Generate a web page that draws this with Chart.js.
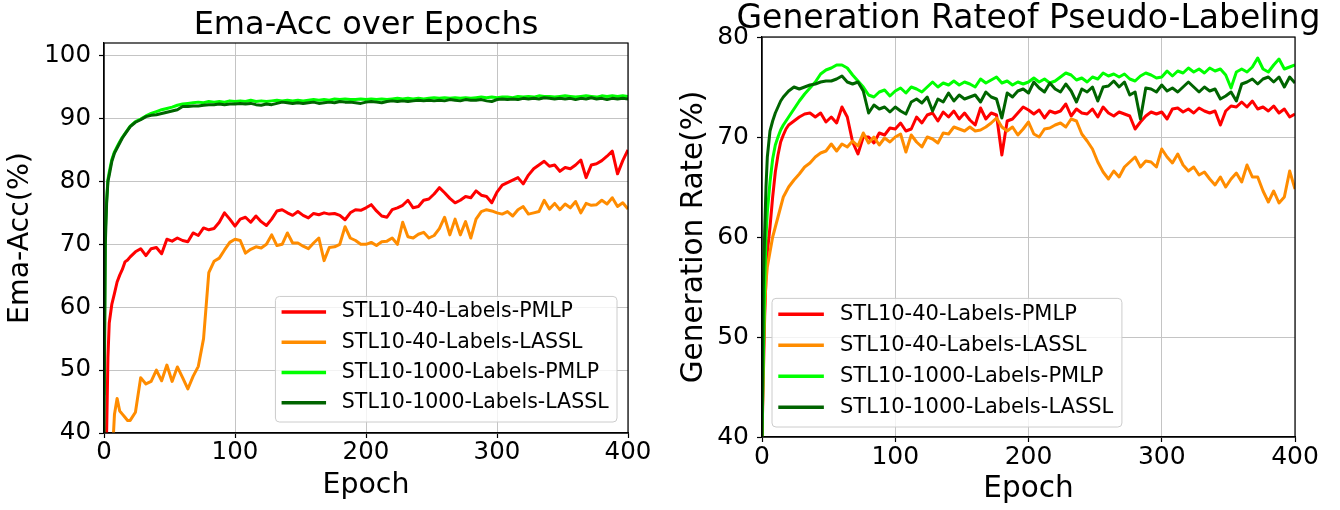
<!DOCTYPE html>
<html><head><meta charset="utf-8">
<script src="https://cdn.jsdelivr.net/npm/chart.js@4/dist/chart.umd.min.js"></script>
<style>
html,body{margin:0;padding:0;background:#fff;}
#wrap{position:relative;width:1340px;height:510px;overflow:hidden;background:#fff;}
canvas{position:absolute;top:0;}
</style></head><body>
<div id="wrap">
<canvas id="c1" width="660" height="510" style="left:0px"></canvas>
<canvas id="c2" width="680" height="510" style="left:660px"></canvas>
</div>
<script>
// ---------- data ----------
const EPOCHS = [0,1,2,3,4,6,8,10,12,14,16,18,
 20,24,28,32,36,40,44,48,52,56,
 60,64,68,72,76,80,84,88,92,96,
 100,104,108,112,116,120,124,128,132,136,
 140,144,148,152,156,160,164,168,172,176,
 180,184,188,192,196,200,204,208,212,216,
 220,224,228,232,236,240,244,248,252,256,
 260,264,268,272,276,280,284,288,292,296,
 300,304,308,312,316,320,324,328,332,336,
 340,344,348,352,356,360,364,368,372,376,
 380,384,388,392,396,400];

const SERIES_LABELS = ['STL10-40-Labels-PMLP','STL10-40-Labels-LASSL','STL10-1000-Labels-PMLP','STL10-1000-Labels-LASSL'];
const COLORS = ['#ff0000','#ff8c00','#00ff00','#006400'];
const X_TICKS = [0,100,200,300,400];

// Ema-Acc (%)
const ACC_40_PMLP = [30,33,40,52,57.5,60.5,62.2,64,65.1,66,67.2,67.5,
 68.0,68.8,69.3,68.2,69.3,69.5,68.5,70.8,70.5,71.0,
 70.6,70.4,71.8,71.4,72.6,72.3,72.5,73.5,75.0,74.0,
 72.9,74.0,74.3,73.5,74.5,73.6,73.0,74.0,75.3,75.5,
 75.0,74.6,75.2,74.6,74.2,74.9,74.7,75.0,74.8,74.9,
 74.6,73.9,75.0,75.5,75.4,75.8,76.3,75.3,74.5,74.3,
 75.5,75.8,76.2,77.0,75.8,76.0,77.0,77.2,78.0,79.0,
 78.2,77.3,76.6,77.0,77.6,77.4,78.5,77.8,77.6,76.6,
 78.3,79.4,79.8,80.2,80.6,79.6,81.0,82.0,82.6,83.2,
 82.4,82.6,81.6,82.2,82.0,82.6,83.4,80.6,82.6,82.8,
 83.3,84.0,84.8,81.2,83.3,85.0];
const ACC_40_LASSL = [35,35,35,35,35,35,43,45.5,43.5,43,42.5,42,
 42.0,43.3,48.8,47.8,48.2,50.0,48.3,50.8,48.2,50.5,
 48.8,47.0,49.0,50.6,55.0,65.5,67.3,67.8,69.1,70.3,
 70.8,70.6,68.6,69.2,69.6,69.4,70.0,71.5,69.8,70.0,
 71.8,70.2,70.2,69.7,69.3,70.2,71.0,67.4,69.5,69.6,
 70.0,72.8,71.0,70.6,70.0,70.0,70.3,69.8,70.4,70.5,
 71.0,70.0,73.5,71.2,71.0,71.6,71.9,71.0,71.4,72.5,
 74.3,71.5,74.0,71.5,73.6,71.0,74.0,75.2,75.5,75.3,
 75.0,74.8,75.2,74.5,75.5,76.0,74.8,75.0,75.2,77.0,
 75.6,76.5,75.5,76.4,75.8,76.8,75.0,76.5,76.2,76.3,
 77.0,76.4,77.4,76.0,76.6,75.6];
const ACC_1000_PMLP = [46,72,77,80.3,81.5,83.5,84.7,85.5,86.3,87.0,87.6,88.2,
 88.8,89.5,89.9,90.4,90.8,91.1,91.4,91.6,91.8,92.1,
 92.3,92.4,92.5,92.6,92.5,92.7,92.6,92.7,92.6,92.8,
 92.7,92.8,92.7,92.9,92.7,92.8,92.7,92.8,92.9,92.8,
 92.9,92.8,92.9,92.8,92.9,93.0,92.9,93.0,92.9,93.1,
 93.0,93.1,93.0,93.0,93.1,93.0,93.1,93.0,93.1,93.0,
 93.1,93.2,93.1,93.2,93.1,93.2,93.1,93.2,93.3,93.2,
 93.3,93.2,93.3,93.2,93.3,93.2,93.3,93.4,93.3,93.4,
 93.3,93.4,93.4,93.3,93.5,93.4,93.5,93.4,93.6,93.5,
 93.5,93.4,93.5,93.6,93.5,93.4,93.5,93.6,93.5,93.4,
 93.6,93.5,93.6,93.5,93.6,93.5];
const ACC_1000_LASSL = [40,70,76.5,80,81,83.2,84.5,85.3,86.1,86.9,87.5,88.1,
 88.7,89.4,89.8,90.3,90.5,90.6,90.8,91.0,91.2,91.4,
 91.9,91.9,92.0,92.0,92.1,92.2,92.2,92.3,92.2,92.3,
 92.3,92.4,92.3,92.4,92.2,92.1,92.3,92.2,92.4,92.6,
 92.5,92.4,92.5,92.4,92.5,92.6,92.4,92.5,92.6,92.5,
 92.7,92.6,92.6,92.5,92.4,92.6,92.7,92.6,92.5,92.7,
 92.8,92.7,92.8,92.7,92.8,92.9,92.8,92.9,92.8,92.9,
 92.8,93.0,92.9,92.8,93.0,92.9,92.9,93.0,92.8,92.7,
 93.0,93.1,93.0,93.1,93.0,93.2,93.1,93.2,93.1,93.3,
 93.2,93.1,93.2,93.1,93.2,93.0,93.2,93.1,93.3,93.1,
 93.2,93.0,93.2,93.1,93.2,93.1];

// Generation rate of pseudo-labeling (%)
const GEN_40_PMLP = [40,46,52,56,58.5,61,64,66.5,68.2,69.5,70.2,70.8,
 71.2,71.6,72.0,72.3,72.4,72.0,72.4,71.5,72.0,71.4,
 73.0,72.0,69.5,68.3,70.0,70.0,69.4,70.4,70.2,70.9,
 70.8,71.4,70.6,70.8,72.0,71.4,72.2,72.4,71.6,72.5,
 72.0,72.6,71.8,72.4,71.7,71.2,72.9,71.8,72.4,72.2,
 68.2,71.6,71.8,72.4,73.0,72.7,72.3,72.7,71.9,72.6,
 72.4,72.6,73.3,72.1,72.8,72.4,72.3,72.8,72.0,73.0,
 72.4,72.1,72.5,72.3,72.1,70.8,71.5,72.1,72.5,72.3,
 72.5,71.8,72.8,72.9,72.5,72.8,72.4,72.9,72.6,72.4,
 72.6,71.2,72.6,73.1,73.0,73.5,73.0,73.6,72.8,73.0,
 72.6,73.1,72.4,72.8,72.0,72.3];
const GEN_40_LASSL = [40,48,53,55.5,57,58.5,60,61,62,63,64,64.5,
 65.0,65.7,66.3,67.0,67.4,68.0,68.4,68.6,69.3,68.6,
 69.3,69.0,69.6,69.1,70.4,69.4,70.0,69.2,69.9,69.5,
 70.0,70.3,68.5,70.2,69.5,69.0,70.0,69.8,69.4,70.4,
 70.3,71.0,70.8,70.6,71.0,70.6,70.7,71.0,71.4,71.9,
 71.0,70.6,71.0,70.2,70.8,71.5,70.3,70.0,70.8,70.9,
 71.2,71.4,71.0,71.8,71.6,70.3,69.6,68.8,67.5,66.5,
 65.8,66.6,66.0,67.0,67.5,68.0,67.0,67.6,67.5,67.0,
 68.8,68.0,67.4,68.3,67.2,66.6,67.0,66.2,66.5,65.8,
 65.2,66.0,65.0,65.8,66.4,65.5,67.2,66.0,66.0,64.6,
 63.5,64.6,63.4,64.0,66.6,64.8];
const GEN_1000_PMLP = [40,48,55,60,62.5,65.5,67.8,69.2,70.0,70.7,71.2,71.6,
 72.0,72.8,73.6,74.3,74.9,75.5,76.3,76.7,76.9,77.2,
 77.2,76.9,76.2,75.6,75.0,74.2,74.0,74.5,74.7,74.1,
 74.6,74.9,74.4,75.0,74.8,74.5,75.0,75.5,75.0,75.4,
 75.2,75.6,75.2,75.5,75.3,75.0,75.8,75.4,75.7,76.0,
 75.4,75.6,75.2,75.5,75.3,75.5,75.9,75.5,75.8,75.4,
 75.6,76.0,76.4,76.2,75.7,75.9,75.5,76.0,75.8,76.4,
 76.1,76.3,76.0,76.3,75.8,75.6,76.1,76.4,76.2,75.9,
 76.0,76.6,76.1,76.6,76.4,76.9,76.5,76.8,76.4,76.9,
 76.6,76.8,76.2,74.9,76.5,76.8,76.5,77.0,77.9,76.8,
 76.5,77.2,77.8,76.8,77.0,77.2];
const GEN_1000_LASSL = [40,55,60.5,65,68,70.6,71.6,72.4,73.0,73.6,74.0,74.3,
 74.6,75.0,74.8,75.0,75.2,75.3,75.5,75.6,75.6,75.8,
 76.1,75.5,75.3,75.5,74.6,72.4,73.2,72.8,73.0,72.5,
 73.0,72.6,72.3,73.5,73.8,73.4,74.0,72.6,73.8,73.5,
 74.4,73.6,74.2,73.8,74.0,74.2,73.5,74.5,74.0,73.8,
 71.9,74.4,74.0,74.6,74.8,74.4,75.5,74.9,74.5,75.4,
 74.8,74.5,75.3,74.6,73.5,74.8,74.5,75.0,73.6,75.0,
 75.1,75.6,75.0,75.5,74.2,74.5,71.8,74.9,74.8,74.5,
 75.2,74.6,74.9,74.5,75.0,75.5,75.0,74.5,75.0,74.6,
 74.8,73.8,74.1,74.5,73.6,75.3,75.5,75.8,75.3,75.8,
 76.0,75.5,76.0,75.0,76.0,75.4];

// ---------- helpers ----------
const FONT = '"DejaVu Sans", "Liberation Sans", sans-serif';

function makeDataset(values, i) {
  return {
    label: SERIES_LABELS[i],
    data: values.map((v, k) => ({x: EPOCHS[k], y: v})),
    borderColor: COLORS[i],
    backgroundColor: COLORS[i],
    borderWidth: 3,
    pointRadius: 0,
    pointHoverRadius: 0,
    tension: 0,
    fill: false,
    borderJoinStyle: 'round',
    order: 3 - i
  };
}

const framePlugin = {
  id: 'frame',
  afterDatasetsDraw(chart, args, o) {
    const {ctx, chartArea: a} = chart;
    ctx.save();
    ctx.strokeStyle = o.color || '#000';
    ctx.lineWidth = o.width || 1.2;
    ctx.strokeRect(a.left, a.top, a.right - a.left, a.bottom - a.top);
    ctx.restore();
  }
};

const boxLegendPlugin = {
  id: 'boxLegend',
  afterDatasetsDraw(chart, args, o) {
    const {ctx, chartArea: a} = chart;
    const fs = o.fontSize;
    const items = chart.data.datasets.map((d, i) => ({label: d.label, color: d.borderColor}));
    ctx.save();
    ctx.font = fs + 'px ' + FONT;
    const maxW = Math.max(...items.map(it => ctx.measureText(it.label).width));
    const padL = 0.3 * fs, handle = 2.17 * fs, gap = 0.77 * fs, padR = 0.41 * fs;
    const padT = 0.76 * fs, padB = 0.94 * fs, rowH = 1.475 * fs;
    const w = padL + handle + gap + maxW + padR;
    const h = padT + padB + rowH * (items.length - 1);
    const x0 = o.corner === 'right' ? a.right - o.insetX - w : a.left + o.insetX;
    const y0 = a.bottom - o.insetY - h;
    ctx.beginPath();
    ctx.roundRect(x0, y0, w, h, 4);
    ctx.fillStyle = 'rgba(255,255,255,0.8)';
    ctx.fill();
    ctx.strokeStyle = '#cccccc';
    ctx.lineWidth = 1;
    ctx.stroke();
    items.forEach((it, i) => {
      const cy = y0 + padT + i * rowH;
      ctx.beginPath();
      ctx.moveTo(x0 + padL, cy);
      ctx.lineTo(x0 + padL + handle, cy);
      ctx.strokeStyle = it.color;
      ctx.lineWidth = 3.5;
      ctx.stroke();
      ctx.fillStyle = '#000';
      ctx.textBaseline = 'middle';
      ctx.textAlign = 'left';
      ctx.fillText(it.label, x0 + padL + handle + gap, cy);
    });
    ctx.restore();
  }
};

const plotTitlePlugin = {
  id: 'plotTitle',
  afterDraw(chart, args, o) {
    const {ctx, chartArea: a} = chart;
    ctx.save();
    ctx.font = o.fontSize + 'px ' + FONT;
    ctx.fillStyle = '#000';
    ctx.textAlign = 'center';
    ctx.textBaseline = 'alphabetic';
    ctx.fillText(o.text, (a.left + a.right) / 2, a.top - o.gap);
    ctx.restore();
  }
};

function makeChart(canvasId, cfg) {
  const yLine = cfg.axisFont * 1.2;
  return new Chart(document.getElementById(canvasId), {
    type: 'line',
    data: { datasets: cfg.series.map((s, i) => makeDataset(s, i)) },
    plugins: [framePlugin, boxLegendPlugin, plotTitlePlugin],
    options: {
      responsive: false,
      animation: false,
      devicePixelRatio: 1,
      events: [],
      layout: { padding: { left: 0, right: cfg.padRight, top: cfg.padTop, bottom: 0 } },
      plugins: {
        legend: { display: false },
        title: { display: false },
        tooltip: { enabled: false },
        frame: { color: '#000', width: 1.2 },
        boxLegend: { fontSize: cfg.legendFont, corner: cfg.legendCorner, insetX: cfg.legendInsetX, insetY: cfg.legendInsetY },
        plotTitle: { text: cfg.title, fontSize: cfg.titleFont, gap: 9 }
      },
      scales: {
        x: {
          type: 'linear',
          min: 0, max: 400,
          afterBuildTicks: s => { s.ticks = X_TICKS.map(v => ({value: v})); },
          afterFit: s => { s.height = 510 - cfg.chartBottom; },
          ticks: { font: { family: FONT, size: cfg.tickFont }, color: '#000', padding: 0, maxRotation: 0, autoSkip: false },
          grid: { color: '#c4c4c4', lineWidth: 1, tickLength: 5, tickColor: '#000', tickWidth: 1.2 },
          border: { color: '#000', width: 1.2 },
          title: { display: true, text: 'Epoch', color: '#000', font: { family: FONT, size: cfg.axisFont }, padding: { top: 0, bottom: cfg.xTitlePadBottom } }
        },
        y: {
          type: 'linear',
          min: cfg.yMin, max: cfg.yMax,
          afterFit: s => { s.width = cfg.chartLeft; },
          ticks: { stepSize: 10, includeBounds: false, font: { family: FONT, size: cfg.tickFont }, color: '#000', padding: 8 },
          grid: { color: '#c4c4c4', lineWidth: 1, tickLength: 5, tickColor: '#000', tickWidth: 1.2 },
          border: { color: '#000', width: 1.2 },
          title: { display: true, text: cfg.yTitle, color: '#000', font: { family: FONT, size: cfg.axisFont }, padding: { top: cfg.yTitleX - yLine / 2, bottom: 0 } }
        }
      }
    }
  });
}

makeChart('c1', {
  series: [ACC_40_PMLP, ACC_40_LASSL, ACC_1000_PMLP, ACC_1000_LASSL],
  title: 'Ema-Acc over Epochs', yTitle: 'Ema-Acc(%)',
  yMin: 40, yMax: 102,
  chartLeft: 104, padRight: 32, padTop: 43, chartBottom: 433,
  titleFont: 32, tickFont: 24.5, axisFont: 28.4, legendFont: 20.5,
  yTitleX: 21, xTitlePadBottom: 7,
  legendCorner: 'right', legendInsetX: 11, legendInsetY: 11
});

makeChart('c2', {
  series: [GEN_40_PMLP, GEN_40_LASSL, GEN_1000_PMLP, GEN_1000_LASSL],
  title: 'Generation Rateof Pseudo-Labeling', yTitle: 'Generation Rate(%)',
  yMin: 40, yMax: 80,
  chartLeft: 102, padRight: 45, padTop: 37, chartBottom: 437,
  titleFont: 33, tickFont: 25, axisFont: 29.5, legendFont: 21,
  yTitleX: 34, xTitlePadBottom: 2.5,
  legendCorner: 'left', legendInsetX: 10, legendInsetY: 10
});
</script>
</body></html>
